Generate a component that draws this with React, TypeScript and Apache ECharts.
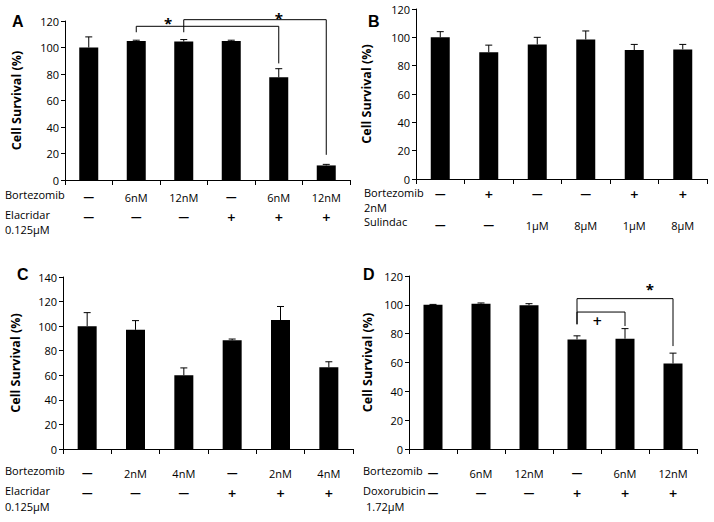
import { useEffect, useRef } from "react";
import * as echarts from "echarts";

// ---------- Panel A ----------
const aRow1 = ["—", "6nM", "12nM", "—", "6nM", "12nM"];
const aRow2 = ["—", "—", "—", "+", "+", "+"];
const aMeans = [100, 105, 104.5, 105, 77.5, 11];
const aErrTop = [108, 105.5, 106, 105.5, 84, 11.8];
// brackets: [fromCat, toCat, yTop, yEndAtFrom, yEndAtTo]
const aBrackets = [
  [1, 4, 116, 111.5, 88],
  [2, 5, 121, 111.5, 19],
];
// significance marks: [category position, y, symbol]
const aMarks: [number, number, string][] = [
  [1.67, 120.5, "*"],
  [4, 124.5, "*"],
];

// ---------- Panel B ----------
const bRow1 = ["—", "+", "—", "—", "+", "+"];
const bRow2 = ["—", "—", "1μM", "8μM", "1μM", "8μM"];
const bMeans = [100, 89.5, 95, 98.5, 91, 91.5];
const bErrTop = [104, 94.5, 100, 104.5, 95, 95];

// ---------- Panel C ----------
const cRow1 = ["—", "2nM", "4nM", "—", "2nM", "4nM"];
const cRow2 = ["—", "—", "—", "+", "+", "+"];
const cMeans = [100, 97, 60, 88.5, 105, 66.5];
const cErrTop = [111, 104.5, 66, 89.5, 116, 71];

// ---------- Panel D ----------
const dRow1 = ["—", "6nM", "12nM", "—", "6nM", "12nM"];
const dRow2 = ["—", "—", "—", "+", "+", "+"];
const dMeans = [100, 100.8, 99.7, 76, 76.5, 59.3];
const dErrTop = [100.3, 101.3, 100.8, 78.5, 83.5, 66.5];
const dBrackets = [
  [3, 5, 104.3, 86.5, 71.4],
  [3, 4, 95, 86.5, 85.3],
];
const dMarks: [number, number, string][] = [
  [4.52, 113, "*"],
  [3.42, 88.8, "+"],
];

const FONT = "'Open Sans', 'DejaVu Sans', sans-serif";
const SYM_FONT = "'DejaVu Sans', sans-serif";
const CATS = ["0", "1", "2", "3", "4", "5"];

type Panel = {
  grid: { left: number; top: number; width: number; height: number };
  yMax: number;
  row1: string[];
  row2: string[];
  lineHeight: number;
  labelMargin: number;
  nameGap: number;
  means: number[];
  errTop: number[];
  brackets?: number[][];
  marks?: [number, number, string][];
};

const panels: Panel[] = [
  {
    grid: { left: 65, top: 21, width: 285, height: 159 },
    yMax: 120, row1: aRow1, row2: aRow2, lineHeight: 20, labelMargin: 7,
    nameGap: 42, means: aMeans, errTop: aErrTop, brackets: aBrackets, marks: aMarks,
  },
  {
    grid: { left: 416, top: 9, width: 291, height: 170 },
    yMax: 120, row1: bRow1, row2: bRow2, lineHeight: 31, labelMargin: 0,
    nameGap: 43, means: bMeans, errTop: bErrTop,
  },
  {
    grid: { left: 63, top: 277, width: 290, height: 172 },
    yMax: 140, row1: cRow1, row2: cRow2, lineHeight: 20, labelMargin: 14,
    nameGap: 41, means: cMeans, errTop: cErrTop,
  },
  {
    grid: { left: 409, top: 276, width: 288, height: 173 },
    yMax: 120, row1: dRow1, row2: dRow2, lineHeight: 20, labelMargin: 14,
    nameGap: 35, means: dMeans, errTop: dErrTop, brackets: dBrackets, marks: dMarks,
  },
];

// row titles and panel letters (layout text)
const rowTitles: [string, number, number][] = [
  ["Bortezomib", 5, 197],
  ["Elacridar", 5, 217],
  ["0.125μM", 5, 232],
  ["Bortezomib", 364, 195],
  ["2nM", 364, 210],
  ["Sulindac", 364, 224],
  ["Bortezomib", 5, 473],
  ["Elacridar", 5, 493],
  ["0.125μM", 5, 509],
  ["Bortezomib", 363, 473],
  ["Doxorubicin", 363, 493],
  ["1.72μM", 366, 509],
];
const letters: [string, number, number][] = [
  ["A", 12, 23],
  ["B", 368, 23],
  ["C", 17, 276],
  ["D", 363, 276],
];

function xAt(api: any, pos: number, y: number) {
  const base = api.coord([0, y]);
  const band = api.size([1, 0])[0];
  return [base[0] + pos * band, base[1]];
}

const wrap = (t: string) => (t === "+" || t === "—" ? `{s|${t}}` : `{n|${t}}`);

export default function App() {
  const ref = useRef<HTMLDivElement>(null);
  useEffect(() => {
    document.body.style.margin = "0";
    const chart = echarts.init(ref.current!, null, { renderer: "svg" });
    const grid: any[] = [];
    const xAxis: any[] = [];
    const yAxis: any[] = [];
    const series: any[] = [];
    panels.forEach((p, k) => {
      grid.push({ ...p.grid, containLabel: false });
      xAxis.push({
        type: "category",
        gridIndex: k,
        data: CATS,
        axisLine: { show: true, lineStyle: { color: "#000", width: 1 } },
        axisTick: { show: true, length: 5, lineStyle: { color: "#000" } },
        axisLabel: {
          interval: 0,
          color: "#000",
          fontSize: 11,
          fontFamily: FONT,
          lineHeight: p.lineHeight,
          margin: p.labelMargin,
          formatter: (_v: string, i: number) => wrap(p.row1[i]) + "\n" + wrap(p.row2[i]),
          rich: {
            s: { fontWeight: "bold", fontSize: 11, fontFamily: SYM_FONT, color: "#000", lineHeight: p.lineHeight },
            n: { fontSize: 11, fontFamily: FONT, color: "#000", lineHeight: p.lineHeight },
          },
        },
        splitLine: { show: false },
      });
      yAxis.push({
        type: "value",
        gridIndex: k,
        min: 0,
        max: p.yMax,
        interval: 20,
        axisLine: { show: true, lineStyle: { color: "#000", width: 1 } },
        axisTick: { show: true, length: 4, lineStyle: { color: "#000" } },
        splitLine: { show: false },
        axisLabel: { color: "#000", fontSize: 11, fontFamily: FONT, margin: 6 },
        name: "Cell Survival (%)",
        nameLocation: "middle",
        nameGap: p.nameGap,
        nameTextStyle: { color: "#000", fontSize: 12.5, fontWeight: "bold", fontFamily: FONT },
      });
      series.push({
        type: "bar",
        xAxisIndex: k,
        yAxisIndex: k,
        data: p.means,
        barWidth: 19,
        itemStyle: { color: "#000" },
      });
      series.push({
        type: "custom",
        xAxisIndex: k,
        yAxisIndex: k,
        data: p.means.map((m, i) => [i, m, p.errTop[i]]),
        encode: { x: 0, y: [1, 2] },
        renderItem: (params: any, api: any) => {
          const i = params.dataIndex;
          const a = xAt(api, i, p.means[i]);
          const b = xAt(api, i, p.errTop[i]);
          return {
            type: "group",
            children: [
              { type: "line", shape: { x1: a[0], y1: a[1], x2: b[0], y2: b[1] }, style: { stroke: "#000", lineWidth: 1 } },
              { type: "line", shape: { x1: b[0] - 3.5, y1: b[1], x2: b[0] + 3.5, y2: b[1] }, style: { stroke: "#000", lineWidth: 1 } },
            ],
          };
        },
        z: 3,
      });
      if (p.brackets) {
        const br = p.brackets;
        series.push({
          type: "custom",
          xAxisIndex: k,
          yAxisIndex: k,
          clip: false,
          data: br.map((b) => [b[0], b[2]]),
          encode: { x: 0, y: 1 },
          renderItem: (params: any, api: any) => {
            const b = br[params.dataIndex];
            const p1 = xAt(api, b[0], b[3]);
            const p2 = xAt(api, b[0], b[2]);
            const p3 = xAt(api, b[1], b[2]);
            const p4 = xAt(api, b[1], b[4]);
            return {
              type: "polyline",
              shape: { points: [p1, p2, p3, p4] },
              style: { stroke: "#000", lineWidth: 1, fill: null },
            };
          },
          z: 4,
        });
      }
      if (p.marks) {
        const mk = p.marks;
        series.push({
          type: "custom",
          xAxisIndex: k,
          yAxisIndex: k,
          clip: false,
          data: mk.map((m) => [Math.round(m[0]), m[1]]),
          encode: { x: 0, y: 1 },
          renderItem: (params: any, api: any) => {
            const m = mk[params.dataIndex];
            const pt = xAt(api, m[0], m[1]);
            const star = m[2] === "*";
            return {
              type: "text",
              x: pt[0],
              y: pt[1] + (star ? 3 : 0),
              style: {
                text: m[2],
                fill: "#000",
                fontSize: star ? 15 : 12,
                fontWeight: "bold",
                fontFamily: star ? FONT : SYM_FONT,
                align: "center",
                verticalAlign: "middle",
              },
            };
          },
          z: 4,
        });
      }
    });

    const graphic: any[] = [];
    rowTitles.forEach(([t, x, y]) => {
      graphic.push({
        type: "text",
        left: x,
        top: y - 8,
        style: { text: t, fill: "#000", fontSize: 11, fontFamily: FONT },
      });
    });
    letters.forEach(([t, x, y]) => {
      graphic.push({
        type: "text",
        left: x,
        top: y - 10,
        style: { text: t, fill: "#000", fontSize: 16, fontWeight: "bold", fontFamily: "'Liberation Sans', Arial, sans-serif" },
      });
    });

    chart.setOption({
      animation: false,
      backgroundColor: "#fff",
      grid,
      xAxis,
      yAxis,
      series,
      graphic,
    });
    return () => chart.dispose();
  }, []);
  return <div ref={ref} style={{ width: 714, height: 522 }} />;
}
